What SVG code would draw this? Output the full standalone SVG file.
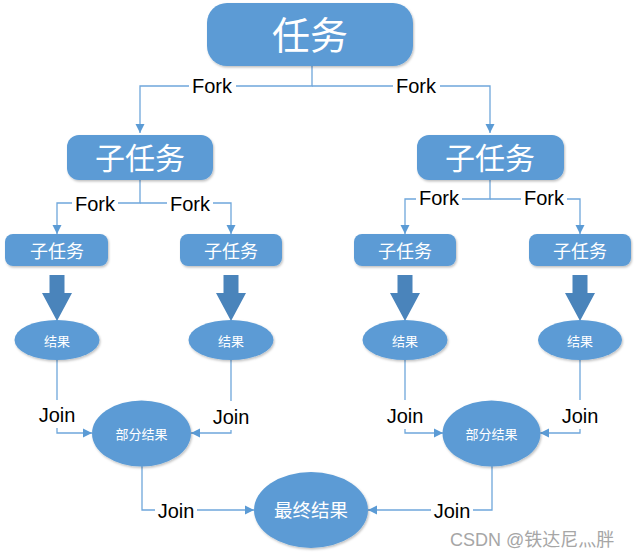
<svg xmlns="http://www.w3.org/2000/svg" width="637" height="557" viewBox="0 0 637 557">
<style>
.node{fill:#5b9bd5;filter:url(#sh)}
.nt{fill:#fff;font-family:"Noto Sans CJK SC","Liberation Sans",sans-serif;text-anchor:middle;dominant-baseline:central}
.conn{fill:none;stroke:#6fa7db;stroke-width:1.3}
.lbl{font-family:"Liberation Sans","Noto Sans",sans-serif;font-size:20px;fill:#000;text-anchor:middle}
.bg{fill:#fff}
.blk{fill:#4a84bb}
</style>
<defs>
<filter id="sh" x="-20%" y="-20%" width="140%" height="150%">
<feDropShadow dx="1" dy="1.5" stdDeviation="1.2" flood-color="#000" flood-opacity="0.25"/>
</filter>
<marker id="ar" markerWidth="10" markerHeight="10" refX="9" refY="5" orient="auto" markerUnits="userSpaceOnUse">
<path d="M0,0.5 L9,5 L0,9.5 Z" fill="#5b9bd5"/>
</marker>
</defs>

<g id="connectors">
<path class="conn" d="M312,66 V86 H140 V133" marker-end="url(#ar)"/>
<path class="conn" d="M312,86 H490 V133" marker-end="url(#ar)"/>
<path class="conn" d="M140,180 V203 H57 V234" marker-end="url(#ar)"/>
<path class="conn" d="M140,203 H231 V234" marker-end="url(#ar)"/>
<path class="conn" d="M490,180 V199 H405 V234" marker-end="url(#ar)"/>
<path class="conn" d="M490,199 H580 V234" marker-end="url(#ar)"/>
<path class="conn" d="M57,360 V433 H92" marker-end="url(#ar)"/>
<path class="conn" d="M231,360 V433 H191" marker-end="url(#ar)"/>
<path class="conn" d="M405,360 V433 H443" marker-end="url(#ar)"/>
<path class="conn" d="M580,360 V433 H540" marker-end="url(#ar)"/>
<path class="conn" d="M142,466 V510 H254" marker-end="url(#ar)"/>
<path class="conn" d="M492,466 V510 H368" marker-end="url(#ar)"/>
<g id="labels">
<rect class="bg" x="189" y="76" width="47" height="21"/><text class="lbl" x="212" y="93">Fork</text>
<rect class="bg" x="393" y="76" width="47" height="21"/><text class="lbl" x="416" y="93">Fork</text>
<rect class="bg" x="72" y="193" width="46" height="21"/><text class="lbl" x="95" y="211">Fork</text>
<rect class="bg" x="167" y="193" width="46" height="21"/><text class="lbl" x="190" y="211">Fork</text>
<rect class="bg" x="416" y="189" width="46" height="21"/><text class="lbl" x="439" y="205">Fork</text>
<rect class="bg" x="521" y="189" width="46" height="21"/><text class="lbl" x="544" y="205">Fork</text>
<rect class="bg" x="36" y="400" width="42" height="28"/><text class="lbl" x="57" y="422">Join</text>
<rect class="bg" x="210" y="401" width="42" height="29"/><text class="lbl" x="231" y="424">Join</text>
<rect class="bg" x="384" y="400" width="42" height="29"/><text class="lbl" x="405" y="423">Join</text>
<rect class="bg" x="559" y="400" width="42" height="29"/><text class="lbl" x="580" y="423">Join</text>
<rect class="bg" x="155" y="500" width="42" height="21"/><text class="lbl" x="176" y="518">Join</text>
<rect class="bg" x="431" y="500" width="42" height="21"/><text class="lbl" x="452" y="518">Join</text>
</g>
</g>

<g id="task">
<rect class="node" x="207" y="3" width="206" height="63" rx="20"/>
<text class="nt" x="310" y="32" font-size="38">任务</text>
</g>
<g id="sub-left">
<rect class="node" x="67" y="135" width="146" height="45" rx="12"/>
<text class="nt" x="140" y="156" font-size="30">子任务</text>
</g>
<g id="sub-right">
<rect class="node" x="417" y="135" width="147" height="45" rx="12"/>
<text class="nt" x="490" y="156" font-size="30">子任务</text>
</g>
<g id="sub-ll">
<rect class="node" x="5" y="234" width="103" height="32" rx="8"/>
<text class="nt" x="57" y="250" font-size="18">子任务</text>
</g>
<g id="sub-lr">
<rect class="node" x="180" y="234" width="102" height="32" rx="8"/>
<text class="nt" x="231" y="250" font-size="18">子任务</text>
</g>
<g id="sub-rl">
<rect class="node" x="354" y="234" width="102" height="32" rx="8"/>
<text class="nt" x="405" y="250" font-size="18">子任务</text>
</g>
<g id="sub-rr">
<rect class="node" x="529" y="234" width="102" height="32" rx="8"/>
<text class="nt" x="580" y="250" font-size="18">子任务</text>
</g>

<g id="block-arrows">
<path class="blk" d="M49.5,275 H64.5 V293 H72 L57,321 L42,293 H49.5 Z"/>
<path class="blk" d="M223.5,275 H238.5 V293 H246 L231,321 L216,293 H223.5 Z"/>
<path class="blk" d="M397.5,275 H412.5 V293 H420 L405,321 L390,293 H397.5 Z"/>
<path class="blk" d="M572.5,275 H587.5 V293 H595 L580,321 L565,293 H572.5 Z"/>
</g>

<g id="result-1">
<ellipse class="node" cx="57" cy="340" rx="42.5" ry="20"/>
<text class="nt" x="57" y="340" font-size="13">结果</text>
</g>
<g id="result-2">
<ellipse class="node" cx="231" cy="340" rx="42.5" ry="20"/>
<text class="nt" x="231" y="340" font-size="13">结果</text>
</g>
<g id="result-3">
<ellipse class="node" cx="405" cy="340" rx="42.5" ry="20"/>
<text class="nt" x="405" y="340" font-size="13">结果</text>
</g>
<g id="result-4">
<ellipse class="node" cx="580" cy="340" rx="42" ry="20"/>
<text class="nt" x="580" y="340" font-size="13">结果</text>
</g>
<g id="partial-left">
<ellipse class="node" cx="141.5" cy="433.5" rx="49.5" ry="33"/>
<text class="nt" x="141.5" y="433" font-size="13">部分结果</text>
</g>
<g id="partial-right">
<ellipse class="node" cx="491.5" cy="433.5" rx="49" ry="33"/>
<text class="nt" x="491.5" y="433" font-size="13">部分结果</text>
</g>
<g id="final">
<ellipse class="node" cx="311" cy="510" rx="57" ry="38"/>
<text class="nt" x="311" y="509" font-size="18.5">最终结果</text>
</g>

<text x="450" y="546" font-family="Liberation Sans,'Noto Sans CJK SC',sans-serif" font-size="18" fill="#a6a6a6">CSDN @铁达尼灬胖</text>
</svg>
